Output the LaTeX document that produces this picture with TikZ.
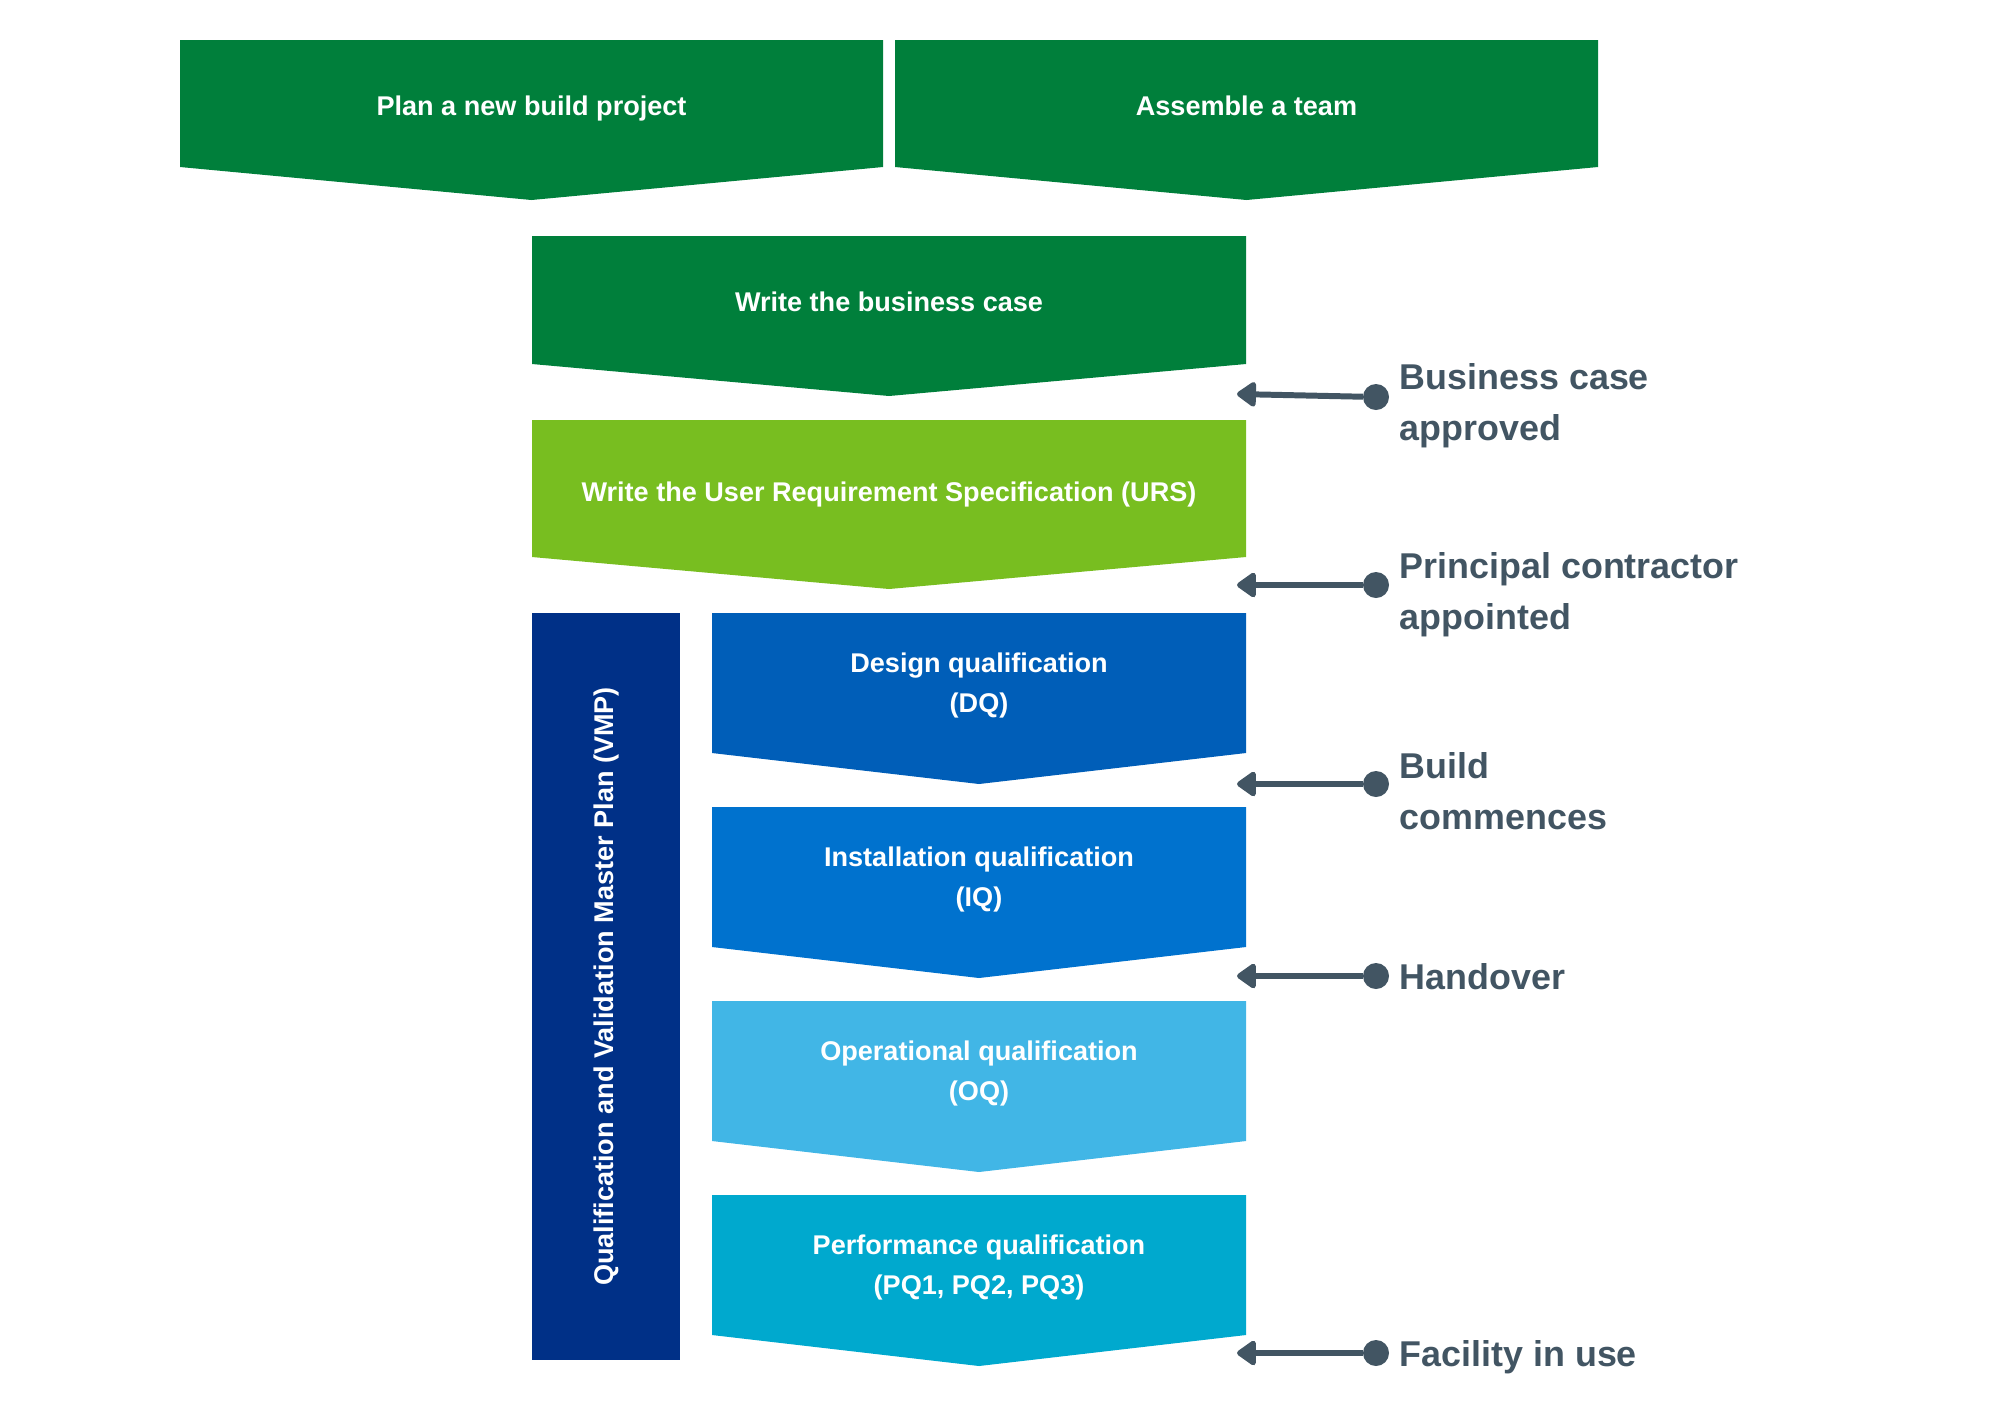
\documentclass[tikz,border=0pt]{standalone}
\usepackage{fontspec}
\setmainfont{Liberation Sans}
\usetikzlibrary{arrows.meta}

\definecolor{nhsgreen}{HTML}{007F3B}
\definecolor{nhslightgreen}{HTML}{78BE20}
\definecolor{nhsblue}{HTML}{005EB8}
\definecolor{nhsbrightblue}{HTML}{0072CE}
\definecolor{nhslightblue}{HTML}{41B6E6}
\definecolor{nhsaqua}{HTML}{00A9CE}
\definecolor{nhsdarkblue}{HTML}{003087}
\definecolor{nhsgrey}{HTML}{425563}

\begin{document}
\begin{tikzpicture}[
  x = 0.01cm,
  y = -0.01cm,
  box/.style = {
    text = white,
    font = \fontsize{7.7}{11.6}\selectfont\bfseries,
    align = center,
  },
  marker/.style = {
    shape = circle,
    fill = nhsgrey,
    minimum size = 2.6mm,
    inner sep = 0pt,
    outer sep = 0pt,
  },
  milestone/.style = {
    anchor = west,
    inner sep = 0pt,
    text = nhsgrey,
    font = \fontsize{10.2}{14.5}\selectfont\bfseries,
    align = left,
  },
  pointer/.style = {
    draw = nhsgrey,
    line width = 1.7pt,
    -{Triangle[length = 2.1mm, width = 2.8mm, round]}
  }
]
  \useasboundingbox (0, 0) rectangle (2000, 1414);

  \fill[color = nhsgreen] (180, 40) -- (883, 40) -- (883, 167) -- (531.5, 200) -- (180, 167) -- cycle;
  \node[box] (plan) at (531.5, 108.5) {Plan a new build project};

  \fill[color = nhsgreen] (895, 40) -- (1598, 40) -- (1598, 167) -- (1246.5, 200) -- (895, 167) -- cycle;
  \node[box] (team) at (1246.5, 106) {Assemble a team};

  \fill[color = nhsgreen] (532, 236) -- (1246, 236) -- (1246, 364) -- (889, 396) -- (532, 364) -- cycle;
  \node[box] (case) at (889, 301.5) {Write the business case};

  \fill[color = nhslightgreen] (532, 420) -- (1246, 420) -- (1246, 557) -- (889, 589) -- (532, 557) -- cycle;
  \node[box] (urs) at (889, 494) {Write the User Requirement Specification (URS)};

  \fill[color = nhsdarkblue] (532, 613) rectangle (680, 1360);
  \node[box, rotate = 90] (vmp) at (606, 986.5) {Qualification and Validation Master Plan (VMP)};

  \fill[color = nhsblue] (712, 613) -- (1246, 613) -- (1246, 753) -- (979, 784) -- (712, 753) -- cycle;
  \node[box] (dq) at (979, 685.5) {Design qualification\\(DQ)};

  \fill[color = nhsbrightblue] (712, 807) -- (1246, 807) -- (1246, 947) -- (979, 978) -- (712, 947) -- cycle;
  \node[box] (iq) at (979, 879.5) {Installation qualification\\(IQ)};

  \fill[color = nhslightblue] (712, 1001) -- (1246, 1001) -- (1246, 1141) -- (979, 1172) -- (712, 1141) -- cycle;
  \node[box] (oq) at (979, 1073.5) {Operational qualification\\(OQ)};

  \fill[color = nhsaqua] (712, 1195) -- (1246, 1195) -- (1246, 1335) -- (979, 1366) -- (712, 1335) -- cycle;
  \node[box] (pq) at (979, 1267.5) {Performance qualification\\(PQ1, PQ2, PQ3)};

  % milestones
  \node[marker] (M1) at (1376, 397) {};
  \node[marker] (M2) at (1376, 585) {};
  \node[marker] (M3) at (1376, 784) {};
  \node[marker] (M4) at (1376, 976) {};
  \node[marker] (M5) at (1376, 1353) {};

  \coordinate (A1) at (1237, 394);
  \coordinate (A2) at (1237, 585);
  \coordinate (A3) at (1237, 784);
  \coordinate (A4) at (1237, 976);
  \coordinate (A5) at (1237, 1353);

  \draw[pointer] (M1) -- (A1);
  \draw[pointer] (M2) -- (A2);
  \draw[pointer] (M3) -- (A3);
  \draw[pointer] (M4) -- (A4);
  \draw[pointer] (M5) -- (A5);

  \node[milestone] (approved) at (1399, 406) {Business case\\approved};
  \node[milestone] (appointed) at (1399, 595) {Principal contractor\\appointed};
  \node[milestone] (commences) at (1399, 791) {Build\\commences};
  \node[milestone] (handover) at (1399, 977) {Handover};
  \node[milestone] (inuse) at (1399, 1357) {Facility in use};
\end{tikzpicture}
\end{document}
